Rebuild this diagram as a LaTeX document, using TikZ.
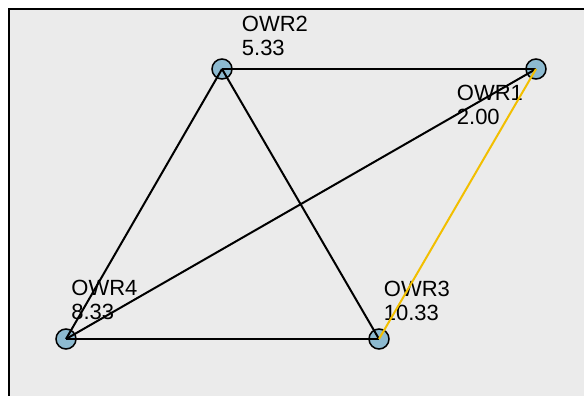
\documentclass[tikz,border=0pt]{standalone}
\usepackage{fontspec}
\setmainfont{Liberation Sans}
\usepackage{xcolor}
\definecolor{panelGray}{HTML}{EBEBEB}
\definecolor{siteBlue}{HTML}{8DBAD0}
\definecolor{linkYellow}{HTML}{F2BF00}
\usetikzlibrary{positioning}

\begin{document}
\begin{tikzpicture}[
		x=0.5pt, y=-0.5pt,
		site/.style={
			circle,
			draw=black,
			line width=0.75pt,
			fill=siteBlue,
			minimum size=10pt,
			inner sep=0pt
		},
		tag/.style={
			anchor=base west,
			align=left,
			inner sep=0pt,
			font=\fontsize{11}{11.85}\selectfont
		},
		link/.style={line width=1pt, black},
		hot/.style={line width=1pt, linkYellow}
		]
		
		\useasboundingbox (0,0) rectangle (584,396);
		\draw[line width=1pt, fill=panelGray] (8.5,8.5) rectangle (600,410);
		
		\node[site] (owr2) at (222,69) {};
		\node[site] (owr1) at (536,69) {};
		\node[site] (owr4) at (66,339) {};
		\node[site] (owr3) at (379,339) {};
		
		% base anchor sits on the last line
		\node[tag] (tag2) at (241.5,55.7) {OWR2\\5.33};
		\node[tag] (tag1) at (456.5,124) {OWR1\\2.00};
		\node[tag] (tag4) at (71,319.5) {OWR4\\8.33};
		\node[tag] (tag3) at (383.5,320.5) {OWR3\\10.33};
		
		\draw[link] (owr2.center) -- (owr1.center);
		\draw[link] (owr2.center) -- (owr4.center);
		\draw[link] (owr2.center) -- (owr3.center);
		\draw[link] (owr4.center) -- (owr3.center);
		\draw[link] (owr4.center) -- (owr1.center);
		\draw[hot] (owr3.center) -- (owr1.center);
		
	\end{tikzpicture}
\end{document}
